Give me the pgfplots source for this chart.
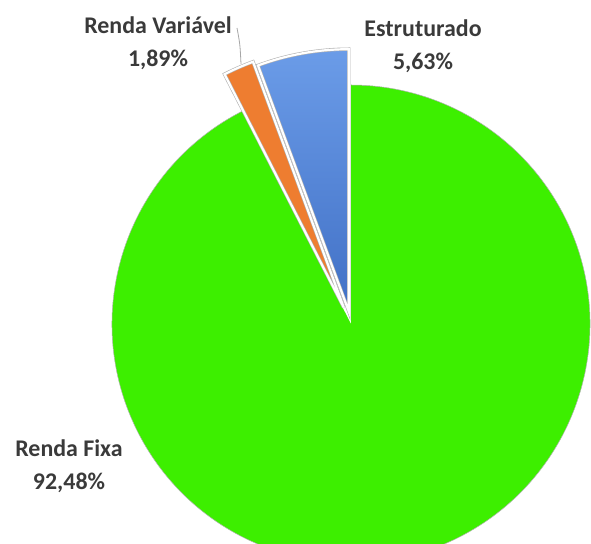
\documentclass[border=0pt]{standalone}
\usepackage{pgfplots}
\usepackage{pgfplotstable}
\usepackage{fontspec}
\setmainfont{Carlito}
\pgfplotsset{compat=1.18}

\definecolor{fixa}{HTML}{3DEF00}
\definecolor{varia}{HTML}{EE7D30}
\definecolor{estrT}{HTML}{6B9CE8}
\definecolor{estrB}{HTML}{3F6EC4}
\definecolor{lbl}{HTML}{3A3A3A}

% percentages
\pgfplotstableread{
name value
fixa 92.48
varia 1.89
estr 5.63
}\piedata

\begin{document}
\begin{tikzpicture}
\useasboundingbox (0,0) rectangle (591bp,544bp);
\pgfplotstablegetelem{0}{value}\of\piedata \let\vFixa\pgfplotsretval
\pgfplotstablegetelem{1}{value}\of\piedata \let\vVaria\pgfplotsretval
\pgfplotstablegetelem{2}{value}\of\piedata \let\vEstr\pgfplotsretval
% angles, clockwise from 12 o'clock
\pgfmathsetmacro{\aA}{90-3.6*\vFixa}      % end of fixa
\pgfmathsetmacro{\aB}{\aA-3.6*\vVaria}    % end of varia
\pgfmathsetmacro{\aC}{\aB-3.6*\vEstr}     % end of estr
\pgfmathsetmacro{\mV}{(\aA+\aB)/2}
\pgfmathsetmacro{\mE}{(\aB+\aC)/2}
\begin{axis}[
    at={(0,0)}, anchor=south west,
    width=591bp, height=544bp, scale only axis,
    xmin=0, xmax=591, ymin=0, ymax=544,
    hide axis, clip=true,
  ]
  % renda fixa
  \fill[fixa] (axis cs:351,220) -- ++(\aA:239bp)
      arc[start angle=\aA, end angle=90, radius=239bp] -- cycle;
  \draw[gray!60, line width=0.5bp] (axis cs:351,220) ++(\aA:239bp)
      arc[start angle=\aA, end angle=90, radius=239bp];
  % renda variavel (exploded)
  \fill[varia, draw=gray!60, line width=0.6bp, double=white, double distance=2.2bp]
      (axis cs:351,220) ++(\mV:18bp) coordinate (pv) -- ++(\aA:262bp)
      arc[start angle=\aA, end angle=\aB, radius=262bp] -- cycle;
  % estruturado (exploded)
  \shade[top color=estrT, bottom color=estrB]
      (axis cs:351,220) ++(\mE:13bp) coordinate (pe) -- ++(\aB:262bp)
      arc[start angle=\aB, end angle=\aC, radius=262bp] -- cycle;
  \draw[gray!60, line width=0.6bp, double=white, double distance=2.2bp]
      (pe) -- ++(\aB:262bp) arc[start angle=\aB, end angle=\aC, radius=262bp] -- cycle;
  % leader line
  \draw[gray!70, line width=0.8bp] (axis cs:237,516) .. controls (axis cs:240,500) .. (axis cs:241,480);
  % labels
  \node[text=lbl, font=\bfseries\fontsize{24}{33}\selectfont, align=center]
      at (axis cs:158,500.5) {Renda Variável\\1,89\%};
  \node[text=lbl, font=\bfseries\fontsize{24}{33}\selectfont, align=center]
      at (axis cs:423,497.5) {Estruturado\\5,63\%};
  \node[text=lbl, font=\bfseries\fontsize{24}{33}\selectfont, align=center]
      at (axis cs:69,77.5) {Renda Fixa\\92,48\%};
\end{axis}
\end{tikzpicture}
\end{document}
